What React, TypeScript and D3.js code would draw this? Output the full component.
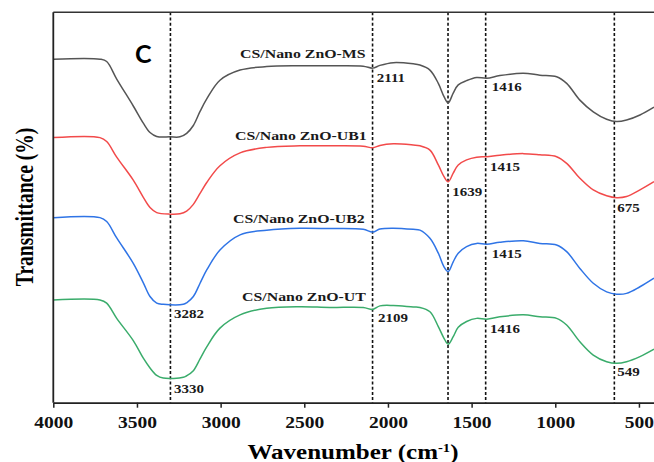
import React, { useRef, useEffect } from "react";
import * as d3 from "d3";

// FTIR spectra, wavenumber (cm-1) vs stacked transmittance (a.u.)
const xTicks = [4000, 3500, 3000, 2500, 2000, 1500, 1000, 500];
const peakLines = [3300, 2092, 1641, 1416, 647];

const msData: [number, number][] = [
  [4000, 88.0], [3721, 88.0], [3681, 87.4], [3621, 82.9], [3522, 76.0], [3462, 71.6],
  [3422, 69.2], [3382, 68.2], [3302, 68.1], [3243, 68.1], [3203, 69.0], [3163, 71.0],
  [3123, 74.6], [3083, 77.8], [3004, 82.6], [2884, 85.2], [2725, 86.1], [2526, 86.3],
  [2347, 86.3], [2148, 86.2], [2091, 85.7], [2048, 86.4], [1968, 87.1], [1849, 86.8],
  [1809, 86.5], [1749, 85.2], [1699, 81.8], [1665, 78.4], [1640, 76.8], [1610, 79.3],
  [1580, 81.4], [1530, 82.5], [1470, 83.3], [1410, 83.1], [1331, 83.8], [1191, 84.4],
  [1092, 83.9], [992, 83.5], [932, 81.8], [853, 77.5], [773, 74.5], [693, 72.6],
  [633, 72.0], [574, 72.4], [494, 73.7], [410, 75.7],
];

const ub1Data: [number, number][] = [
  [4000, 67.9], [3721, 67.9], [3681, 66.9], [3621, 62.9], [3522, 57.0], [3462, 52.6],
  [3422, 50.0], [3382, 48.7], [3302, 48.3], [3243, 48.4], [3203, 49.1], [3163, 50.8],
  [3123, 53.6], [3083, 56.4], [3004, 60.7], [2884, 64.0], [2725, 65.4], [2526, 65.8],
  [2347, 65.8], [2148, 65.7], [2091, 65.3], [2048, 65.9], [1968, 66.3], [1849, 66.0],
  [1809, 65.8], [1749, 64.7], [1699, 60.9], [1665, 57.9], [1640, 56.6], [1610, 58.8],
  [1580, 60.9], [1530, 62.2], [1470, 62.9], [1410, 63.0], [1331, 63.4], [1191, 63.8],
  [1092, 63.5], [992, 63.0], [932, 61.3], [853, 57.5], [773, 54.5], [693, 53.0],
  [633, 52.5], [574, 52.8], [494, 54.5], [410, 56.6],
];

const ub2Data: [number, number][] = [
  [4000, 47.4], [3721, 47.4], [3681, 46.4], [3621, 42.2], [3522, 35.7], [3462, 30.7],
  [3422, 27.2], [3382, 25.5], [3343, 25.2], [3223, 25.2], [3203, 25.6], [3163, 27.2],
  [3123, 30.6], [3083, 34.0], [3004, 39.1], [2884, 43.0], [2725, 44.2], [2526, 44.7],
  [2347, 44.6], [2148, 44.4], [2091, 43.7], [2048, 44.5], [1968, 44.7], [1849, 44.4],
  [1809, 44.2], [1749, 42.1], [1699, 38.3], [1665, 34.8], [1640, 33.6], [1610, 36.1],
  [1580, 38.3], [1530, 40.0], [1470, 40.8], [1410, 40.6], [1331, 41.1], [1191, 41.5],
  [1092, 40.8], [992, 40.4], [932, 38.7], [853, 34.4], [773, 30.6], [693, 28.4],
  [633, 27.8], [574, 28.0], [494, 29.7], [410, 31.9],
];

const utData: [number, number][] = [
  [4000, 26.3], [3721, 26.3], [3681, 25.5], [3621, 21.6], [3522, 15.9], [3462, 11.4],
  [3422, 8.9], [3382, 7.0], [3343, 6.3], [3223, 6.5], [3203, 6.9], [3163, 8.2],
  [3123, 11.2], [3083, 14.3], [3004, 19.1], [2884, 22.5], [2725, 24.2], [2526, 24.6],
  [2347, 24.4], [2148, 24.4], [2091, 23.9], [2048, 24.8], [1968, 24.9], [1849, 24.5],
  [1809, 24.4], [1749, 23.3], [1699, 19.5], [1665, 16.5], [1640, 15.0], [1610, 16.9],
  [1580, 19.3], [1530, 20.8], [1470, 21.6], [1410, 21.4], [1331, 22.0], [1191, 22.5],
  [1092, 22.0], [992, 21.6], [932, 19.9], [853, 15.6], [773, 12.2], [693, 10.5],
  [633, 10.1], [574, 10.5], [494, 11.8], [410, 13.7],
];

const seriesData = [msData, ub1Data, ub2Data, utData];
const seriesNames = ["CS/Nano ZnO-MS", "CS/Nano ZnO-UB1", "CS/Nano ZnO-UB2", "CS/Nano ZnO-UT"];
const seriesColors = ["#555555", "#f24a4a", "#2f74e6", "#3aac6b"];
const nameLabelPos: [number, number][] = [[2884, 88.3], [2914, 67.3], [2926, 46.1], [2872, 26.1]];

const peakLabels: [string, number, number][] = [
  ["2111", 2067, 82.1],
  ["1416", 1380, 79.9],
  ["1415", 1390, 59.3],
  ["1639", 1616, 53.0],
  ["675", 630, 48.9],
  ["1415", 1380, 37.0],
  ["2109", 2060, 20.7],
  ["1416", 1390, 17.9],
  ["549", 630, 6.8],
  ["3282", 3279, 21.6],
  ["3330", 3279, 2.6],
];

const App = () => {
  const ref = useRef<SVGSVGElement>(null);

  useEffect(() => {
    const svgWidth = 654;
    const svgHeight = 462;
    const margin = { top: 12.3, right: 0, bottom: 59.3, left: 53.3 };
    const serif = "'Liberation Serif', 'Times New Roman', serif";
    const stretch = 1.22; // text in the figure is horizontally wide

    const svg = d3.select(ref.current)
      .attr("width", svgWidth)
      .attr("height", svgHeight);
    svg.selectAll("*").remove();

    const xScale = d3.scaleLinear()
      .domain([4000, 410])
      .range([margin.left, svgWidth - margin.right]);
    const yScale = d3.scaleLinear()
      .domain([0, 100])
      .range([svgHeight - margin.bottom, margin.top]);

    // Dashed peak lines
    svg.selectAll(".peak-line")
      .data(peakLines)
      .enter()
      .append("line")
      .attr("x1", d => xScale(d))
      .attr("x2", d => xScale(d))
      .attr("y1", yScale(100))
      .attr("y2", yScale(0))
      .attr("stroke", "#111")
      .attr("stroke-width", 1.6)
      .attr("stroke-dasharray", "3 2.2");

    // Spectra
    const line = d3.line<[number, number]>()
      .x(d => xScale(d[0]))
      .y(d => yScale(d[1]))
      .curve(d3.curveCatmullRom.alpha(0.5));

    svg.selectAll(".spectrum")
      .data(seriesData)
      .enter()
      .append("path")
      .attr("d", d => line(d))
      .attr("fill", "none")
      .attr("stroke", (d, i) => seriesColors[i])
      .attr("stroke-width", 1.5);

    // Frame: top & left
    svg.append("line")
      .attr("x1", margin.left).attr("x2", svgWidth)
      .attr("y1", margin.top).attr("y2", margin.top)
      .attr("stroke", "#333").attr("stroke-width", 1.5);
    svg.append("line")
      .attr("x1", margin.left).attr("x2", margin.left)
      .attr("y1", margin.top).attr("y2", yScale(0))
      .attr("stroke", "#222").attr("stroke-width", 1.8);

    // X axis
    const xAxis = svg.append("g")
      .attr("transform", `translate(0,${yScale(0)})`)
      .call(d3.axisBottom(xScale)
        .tickValues(xTicks)
        .tickFormat(d3.format("d"))
        .tickSize(5)
        .tickSizeOuter(0));
    xAxis.select(".domain").attr("stroke", "#222").attr("stroke-width", 1.8);
    xAxis.selectAll(".tick line").attr("stroke", "#222").attr("stroke-width", 1.5);
    xAxis.selectAll(".tick text")
      .attr("y", 25)
      .attr("dy", 0)
      .attr("transform", `scale(${stretch},1)`)
      .style("font-family", serif)
      .style("font-weight", "bold")
      .style("font-size", "16px")
      .attr("fill", "#111");

    // Series names
    svg.selectAll(".series-name")
      .data(seriesNames)
      .enter()
      .append("text")
      .attr("transform", (d, i) =>
        `translate(${xScale(nameLabelPos[i][0])},${yScale(nameLabelPos[i][1])}) scale(${stretch},1)`)
      .style("font-family", serif)
      .style("font-weight", "bold")
      .style("font-size", "13px")
      .attr("fill", "#1a1a1a")
      .text(d => d);

    // Peak labels
    svg.selectAll(".peak-label")
      .data(peakLabels)
      .enter()
      .append("text")
      .attr("transform", d => `translate(${xScale(d[1])},${yScale(d[2])}) scale(${stretch},1)`)
      .style("font-family", serif)
      .style("font-weight", "bold")
      .style("font-size", "12.3px")
      .attr("fill", "#1a1a1a")
      .text(d => d[0]);

    // Panel letter
    svg.append("text")
      .attr("x", xScale(3512))
      .attr("y", yScale(87.0))
      .style("font-family", "Lato, 'Liberation Sans', sans-serif")
      .style("font-weight", "bold")
      .style("font-size", "25px")
      .attr("fill", "#000")
      .text("C");

    // Axis titles
    const xTitle = svg.append("text")
      .attr("transform", `translate(${353},${459}) scale(${stretch},1)`)
      .attr("text-anchor", "middle")
      .style("font-family", serif)
      .style("font-weight", "bold")
      .style("font-size", "20.5px")
      .attr("fill", "#000");
    xTitle.append("tspan").text("Wavenumber (cm");
    xTitle.append("tspan").attr("dy", -7).style("font-size", "12px").text("-1");
    xTitle.append("tspan").attr("dy", 7).text(")");

    svg.append("text")
      .attr("transform", `translate(33,207) scale(1.3,1) rotate(-90)`)
      .attr("text-anchor", "middle")
      .style("font-family", serif)
      .style("font-weight", "bold")
      .style("font-size", "19.5px")
      .attr("fill", "#000")
      .text("Transmittance (%)");
  }, []);

  return (
    <div style={{ position: "absolute", left: 0, top: 0, background: "#fff" }}>
      <svg ref={ref}></svg>
    </div>
  );
};

export default App;
